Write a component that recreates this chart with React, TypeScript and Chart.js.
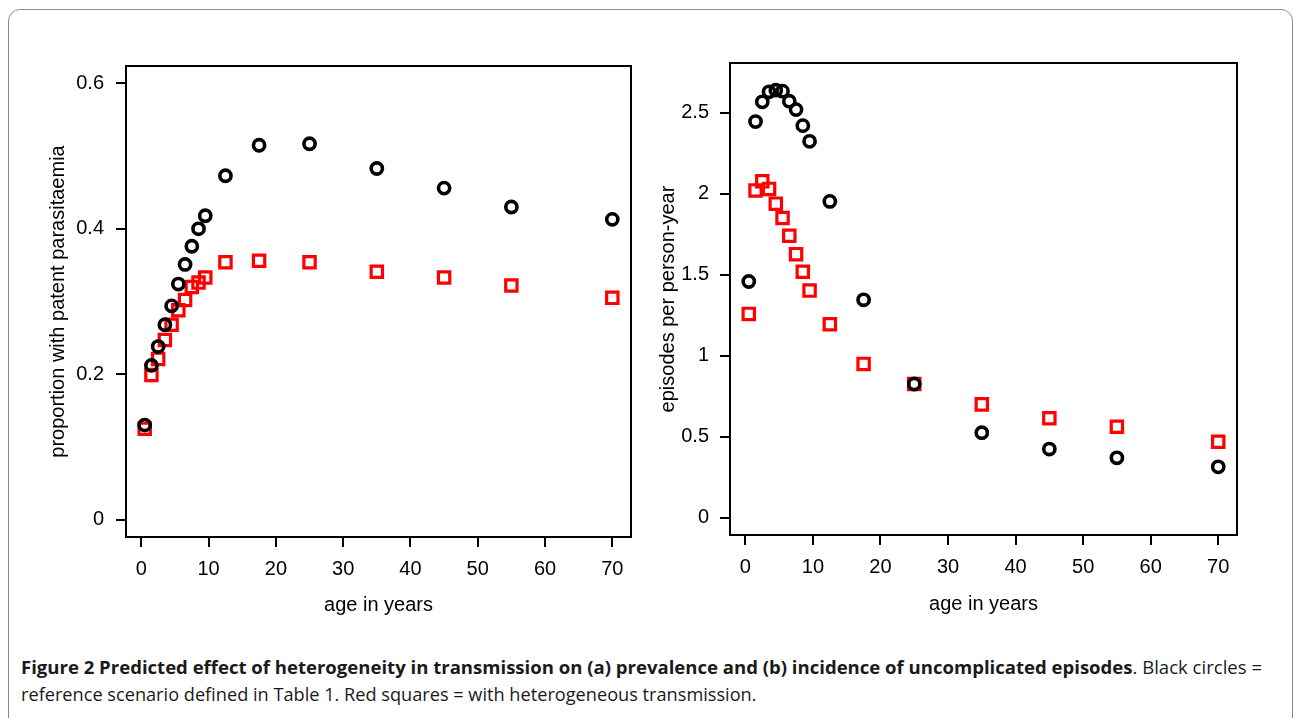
import React, { useEffect, useLayoutEffect, useRef } from "react";
import { Chart, registerables } from "chart.js";

Chart.register(...registerables);

// ---- data ----
const ages = [0.5, 1.5, 2.5, 3.5, 4.5, 5.5, 6.5, 7.5, 8.5, 9.5, 12.5, 17.5, 25, 35, 45, 55, 70];

const prevalenceReference = [
  0.13, 0.212, 0.238, 0.268, 0.294, 0.324, 0.351, 0.376, 0.4, 0.418, 0.473, 0.515, 0.517, 0.483, 0.456, 0.43, 0.413,
];
const prevalenceHeterogeneous = [
  0.125, 0.199, 0.221, 0.247, 0.268, 0.288, 0.302, 0.32, 0.326, 0.333, 0.354, 0.356, 0.354, 0.341, 0.333, 0.322, 0.305,
];
const incidenceReference = [
  1.458, 2.446, 2.568, 2.63, 2.64, 2.634, 2.572, 2.52, 2.421, 2.324, 1.953, 1.345, 0.825, 0.524, 0.423, 0.369, 0.313,
];
const incidenceHeterogeneous = [
  1.258, 2.021, 2.077, 2.03, 1.939, 1.85, 1.741, 1.627, 1.518, 1.402, 1.194, 0.949, 0.825, 0.699, 0.613, 0.561, 0.468,
];

const ageTicks = [0, 10, 20, 30, 40, 50, 60, 70];
const ageTickLabels = ["0", "10", "20", "30", "40", "50", "60", "70"];
const prevalenceTicks = [0, 0.2, 0.4, 0.6];
const prevalenceTickLabels = ["0", "0.2", "0.4", "0.6"];
const incidenceTicks = [0, 0.5, 1, 1.5, 2, 2.5];
const incidenceTickLabels = ["0", "0.5", "1", "1.5", "2", "2.5"];

const xTitle = "age in years";
const prevalenceTitle = "proportion with patent parasitaemia";
const incidenceTitle = "episodes per person-year";

const captionBold =
  "Figure 2 Predicted effect of heterogeneity in transmission on (a) prevalence and (b) incidence of uncomplicated episodes";
const captionRest1 = ". Black circles =";
const captionLine2 = "reference scenario defined in Table 1. Red squares = with heterogeneous transmission.";

const AXIS_FONT = "'Liberation Sans', Arial, sans-serif";

const boxPlugin = {
  id: "rbox",
  afterDraw(chart: any) {
    const { ctx, chartArea: a } = chart;
    ctx.save();
    ctx.strokeStyle = "#000";
    ctx.lineWidth = 2;
    ctx.strokeRect(a.left, a.top, a.right - a.left, a.bottom - a.top);
    ctx.restore();
  },
};

type PanelProps = {
  left: number;
  top: number;
  width: number;
  height: number;
  pad: { top: number; right: number };
  yWidth: number;
  xHeight: number;
  yMin: number;
  yMax: number;
  yTicks: number[];
  yLabels: string[];
  yTitle: string;
  yTitlePad: number;
  xTitlePad: number;
  yTickPad: number;
  black: number[];
  red: number[];
};

function Panel(p: PanelProps) {
  const ref = useRef<HTMLCanvasElement>(null);
  useEffect(() => {
    const font = { family: AXIS_FONT, size: 20 };
    const grid = {
      display: true,
      drawOnChartArea: false,
      drawTicks: true,
      tickLength: 10,
      tickWidth: 2,
      tickColor: "#000",
      color: "#000",
      lineWidth: 2,
    };
    const chart = new Chart(ref.current as HTMLCanvasElement, {
      type: "scatter",
      data: {
        datasets: [
          {
            data: ages.map((a, i) => ({ x: a, y: p.black[i] })),
            pointStyle: "circle",
            pointRadius: 5.6,
            pointBorderWidth: 3.6,
            pointBorderColor: "#000",
            pointBackgroundColor: "rgba(0,0,0,0)",
            showLine: false,
          },
          {
            data: ages.map((a, i) => ({ x: a, y: p.red[i] })),
            pointStyle: "rect",
            pointRadius: 8,
            pointBorderWidth: 3.2,
            pointBorderColor: "#ff0000",
            pointBackgroundColor: "rgba(0,0,0,0)",
            showLine: false,
          },
        ],
      },
      options: {
        animation: false,
        responsive: false,
        events: [],
        layout: { padding: { top: p.pad.top, right: p.pad.right, left: 0, bottom: 0 } },
        plugins: { legend: { display: false }, tooltip: { enabled: false } },
        scales: {
          x: {
            type: "linear",
            position: "bottom",
            min: -2.28,
            max: 72.78,
            grid,
            border: { display: false },
            afterBuildTicks: (s: any) => {
              s.ticks = ageTicks.map((v) => ({ value: v }));
            },
            afterFit: (s: any) => {
              s.height = p.xHeight;
              s.paddingLeft = 0;
              s.paddingRight = 0;
            },
            ticks: {
              autoSkip: false,
              maxRotation: 0,
              minRotation: 0,
              padding: 10,
              color: "#000",
              font,
              callback: (_v: any, i: number) => ageTickLabels[i],
            },
            title: {
              display: true,
              text: xTitle,
              color: "#000",
              font,
              padding: { top: 0, bottom: p.xTitlePad },
            },
          },
          y: {
            type: "linear",
            position: "left",
            min: p.yMin,
            max: p.yMax,
            grid,
            border: { display: false },
            afterBuildTicks: (s: any) => {
              s.ticks = p.yTicks.map((v) => ({ value: v }));
            },
            afterFit: (s: any) => {
              s.width = p.yWidth;
              s.paddingTop = 0;
              s.paddingBottom = 0;
            },
            ticks: {
              autoSkip: false,
              padding: p.yTickPad,
              color: "#000",
              font,
              callback: (_v: any, i: number) => p.yLabels[i],
            },
            title: {
              display: true,
              text: p.yTitle,
              color: "#000",
              font,
              padding: { top: p.yTitlePad, bottom: 0 },
            },
          },
        },
      },
      plugins: [boxPlugin],
    } as any);
    return () => chart.destroy();
  }, []);
  return (
    <canvas
      ref={ref}
      width={p.width}
      height={p.height}
      style={{ position: "absolute", left: p.left, top: p.top, width: p.width, height: p.height }}
    />
  );
}

function Caption() {
  const s1 = useRef<HTMLSpanElement>(null);
  const s2 = useRef<HTMLSpanElement>(null);
  useLayoutEffect(() => {
    const fit = () => {
      const pairs: [HTMLSpanElement | null, number][] = [
        [s1.current, 1241],
        [s2.current, 736],
      ];
      pairs.forEach(([el, target]) => {
        if (!el) return;
        el.style.transform = "none";
        const w = el.offsetWidth;
        if (w > 0) el.style.transform = `scaleX(${target / w})`;
      });
    };
    fit();
    if ((document as any).fonts && (document as any).fonts.ready) {
      (document as any).fonts.ready.then(fit);
    }
  }, []);
  const lineStyle: React.CSSProperties = {
    height: 27,
    lineHeight: "27px",
    whiteSpace: "nowrap",
  };
  const spanStyle: React.CSSProperties = {
    display: "inline-block",
    transformOrigin: "0 50%",
  };
  return (
    <div
      style={{
        position: "absolute",
        left: 21,
        top: 654,
        fontFamily: "'Open Sans', sans-serif",
        fontSize: 17.5,
        color: "#1a1a1a",
      }}
    >
      <div style={lineStyle}>
        <span ref={s1} style={spanStyle}>
          <b>{captionBold}</b>
          {captionRest1}
        </span>
      </div>
      <div style={lineStyle}>
        <span ref={s2} style={spanStyle}>
          {captionLine2}
        </span>
      </div>
    </div>
  );
}

export default function App() {
  return (
    <div
      style={{
        position: "fixed",
        left: 0,
        top: 0,
        width: 1294,
        height: 718,
        overflow: "hidden",
        background: "#fff",
      }}
    >
      <div
        style={{
          position: "absolute",
          left: 8,
          top: 9,
          width: 1285,
          height: 800,
          border: "1px solid #8c8c8c",
          borderRadius: 12,
          boxSizing: "border-box",
        }}
      />
      <Panel
        left={30}
        top={40}
        width={620}
        height={600}
        pad={{ top: 26, right: 19 }}
        yWidth={96}
        xHeight={103}
        yMin={-0.024}
        yMax={0.624}
        yTicks={prevalenceTicks}
        yLabels={prevalenceTickLabels}
        yTitle={prevalenceTitle}
        yTitlePad={16}
        xTitlePad={23}
        yTickPad={12}
        black={prevalenceReference}
        red={prevalenceHeterogeneous}
      />
      <Panel
        left={640}
        top={40}
        width={620}
        height={600}
        pad={{ top: 23, right: 23 }}
        yWidth={90}
        xHeight={105}
        yMin={-0.108}
        yMax={2.808}
        yTicks={incidenceTicks}
        yLabels={incidenceTickLabels}
        yTitle={incidenceTitle}
        yTitlePad={16}
        xTitlePad={24}
        yTickPad={11}
        black={incidenceReference}
        red={incidenceHeterogeneous}
      />
      <Caption />
    </div>
  );
}
